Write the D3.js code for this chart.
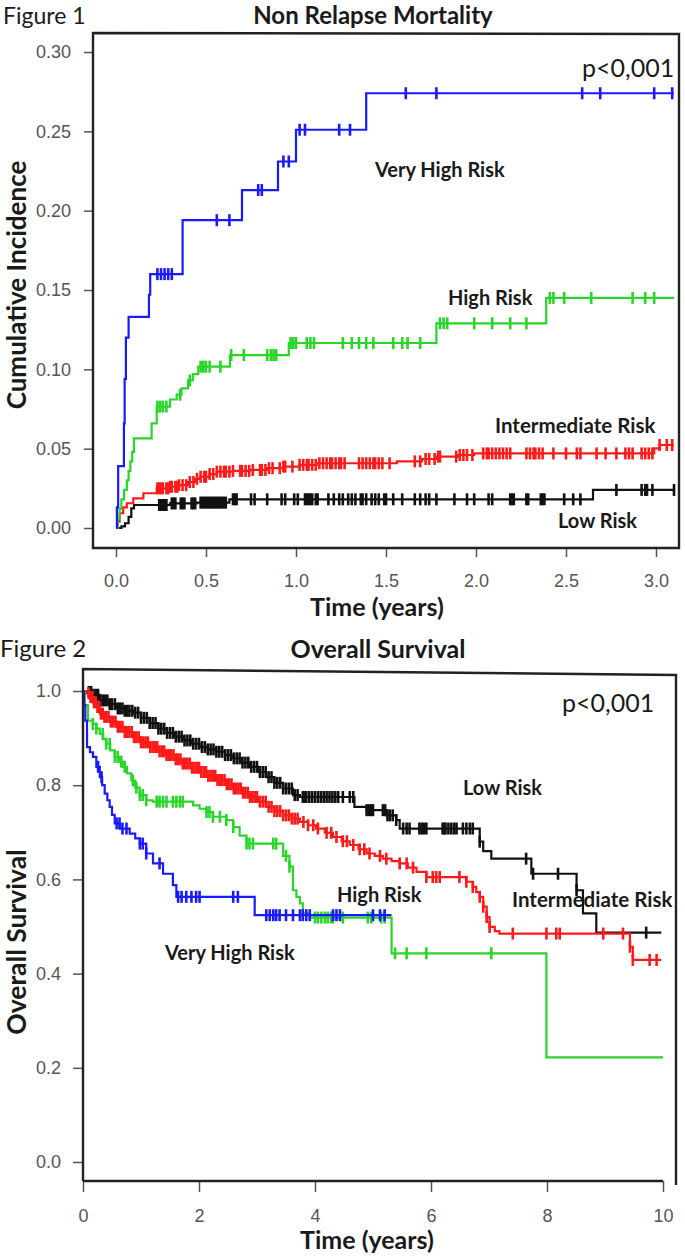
<!DOCTYPE html>
<html>
<head>
<meta charset="utf-8">
<script src="https://cdn.jsdelivr.net/npm/d3@7/dist/d3.min.js"></script>
<style>
  body { margin: 0; background: #fff; }
  text { font-family: Lato, 'Open Sans', sans-serif; fill: #1a1a1a; }
  .tick text { font-family: 'Liberation Sans', Arial, sans-serif; font-size: 18px; fill: #555; }
  .tick line { stroke: #555; stroke-width: 1.5; }
</style>
</head>
<body>
<svg id="chart" width="685" height="1258"></svg>
<script>
// ---------- Figure 1 : Non Relapse Mortality ----------
const nrmXTicks = [0, 0.5, 1, 1.5, 2, 2.5, 3]
const nrmYTicks = [0, 0.05, 0.1, 0.15, 0.2, 0.25, 0.3]

// step curves [time, cumulative incidence]
const nrmVeryHigh = [[0,0],[0.005,0.013],[0.012,0.039],[0.044,0.066],[0.048,0.094],[0.055,0.12],[0.07,0.133],[0.183,0.147],[0.19,0.16],[0.37,0.194],[0.70,0.213],[0.90,0.231],[1.0,0.251],[1.39,0.274],[3.1,0.274]]
const nrmVeryHighCens = [0.23,0.25,0.27,0.29,0.31,0.56,0.63,0.79,0.81,0.93,0.96,1.02,1.05,1.24,1.30,1.61,1.78,2.59,2.69,2.99,3.09]

const nrmHigh = [[0,0],[0.01,0.006],[0.02,0.012],[0.03,0.018],[0.045,0.024],[0.06,0.03],[0.07,0.036],[0.08,0.042],[0.09,0.048],[0.1,0.0565],[0.198,0.066],[0.226,0.0765],[0.3,0.081],[0.337,0.084],[0.364,0.088],[0.40,0.093],[0.427,0.097],[0.457,0.1017],[0.633,0.109],[0.96,0.1166],[1.78,0.129],[2.39,0.145],[3.1,0.145]]
const nrmHighCens = [0.23,0.245,0.26,0.28,0.356,0.41,0.47,0.485,0.50,0.52,0.58,0.64,0.71,0.84,0.86,0.875,0.89,0.97,0.985,1.0,1.06,1.08,1.1,1.26,1.31,1.35,1.39,1.43,1.54,1.59,1.62,1.69,1.8,1.82,1.84,1.99,2.09,2.19,2.28,2.41,2.43,2.49,2.64,2.87,2.94,2.99]

const nrmInter = [[0,0],[0.01,0.004],[0.02,0.0093],[0.04,0.013],[0.06,0.0156],[0.096,0.0187],[0.152,0.0219],[0.226,0.025],[0.3,0.026],[0.35,0.027],[0.40,0.029],[0.44,0.031],[0.467,0.0323],[0.52,0.034],[0.56,0.0355],[0.65,0.036],[0.744,0.0366],[0.84,0.0377],[0.93,0.0387],[1.02,0.0398],[1.115,0.0408],[1.56,0.042],[1.70,0.0435],[1.78,0.045],[1.9,0.046],[1.99,0.047],[2.99,0.0502],[3.02,0.0523],[3.1,0.0523]]
const nrmInterCens = [0.23,0.24,0.25,0.26,0.28,0.29,0.30,0.31,0.33,0.34,0.35,0.37,0.39,0.41,0.43,0.45,0.47,0.49,0.50,0.52,0.54,0.56,0.58,0.60,0.61,0.63,0.65,0.69,0.70,0.72,0.74,0.76,0.80,0.81,0.83,0.85,0.87,0.91,0.93,0.94,0.98,1.02,1.04,1.06,1.07,1.09,1.11,1.13,1.15,1.17,1.19,1.20,1.22,1.24,1.25,1.27,1.35,1.37,1.39,1.41,1.43,1.44,1.46,1.48,1.52,1.66,1.69,1.72,1.74,1.77,1.79,1.80,1.89,1.91,1.93,1.95,1.98,2.04,2.06,2.07,2.09,2.11,2.13,2.15,2.17,2.19,2.28,2.30,2.32,2.33,2.35,2.37,2.43,2.50,2.56,2.58,2.67,2.72,2.78,2.83,2.85,2.87,2.92,2.94,2.96,2.98,3.02,3.06,3.09]

const nrmLow = [[0,0],[0.03,0.001],[0.05,0.003],[0.07,0.007],[0.085,0.0124],[0.1,0.0145],[0.3,0.0155],[0.45,0.016],[0.63,0.0181],[2.65,0.024],[3.1,0.024]]
const nrmLowCens = [0.24,0.245,0.25,0.26,0.27,0.28,0.31,0.32,0.33,0.36,0.37,0.38,0.42,0.43,0.44,0.47,0.48,0.49,0.50,0.51,0.52,0.53,0.54,0.55,0.56,0.57,0.58,0.59,0.60,0.61,0.65,0.66,0.67,0.75,0.77,0.84,0.92,0.94,0.99,1.01,1.05,1.06,1.07,1.08,1.09,1.11,1.12,1.18,1.21,1.24,1.26,1.29,1.31,1.33,1.36,1.37,1.39,1.42,1.44,1.46,1.49,1.50,1.54,1.59,1.66,1.69,1.72,1.74,1.78,1.88,1.95,1.99,2.07,2.09,2.19,2.20,2.21,2.28,2.29,2.36,2.37,2.38,2.49,2.54,2.58,2.78,2.92,2.94,2.95,2.98,3.10]

// ---------- Figure 2 : Overall Survival ----------
const osXTicks = [0, 2, 4, 6, 8, 10]
const osYTicks = [0, 0.2, 0.4, 0.6, 0.8, 1]

const osVeryHigh = [[0,1],[0.02,0.97],[0.04,0.937],[0.069,0.881],[0.12,0.87],[0.172,0.86],[0.23,0.839],[0.29,0.817],[0.33,0.8],[0.374,0.782],[0.42,0.768],[0.46,0.754],[0.5,0.737],[0.547,0.719],[0.633,0.708],[0.805,0.697],[0.9,0.687],[0.98,0.676],[1.09,0.655],[1.207,0.634],[1.38,0.612],[1.55,0.588],[1.61,0.563],[2.96,0.524],[5.32,0.524]]
const osVeryHighCens = [0.26,0.32,0.58,0.63,0.68,0.75,0.98,1.03,1.09,1.32,1.64,1.7,1.78,1.87,1.95,2.01,2.59,2.67,3.16,3.22,3.28,3.33,3.39,3.5,3.62,3.74,3.79,3.85,3.91,4.31,4.37,4.43,5.0,5.12,5.2]

const osHigh = [[0,1],[0.03,0.97],[0.086,0.937],[0.17,0.93],[0.23,0.92],[0.29,0.909],[0.35,0.898],[0.4,0.888],[0.47,0.874],[0.547,0.86],[0.62,0.85],[0.69,0.839],[0.76,0.825],[0.834,0.81],[0.9,0.795],[0.977,0.779],[1.09,0.768],[1.2,0.765],[1.9,0.757],[2.01,0.75],[2.13,0.743],[2.24,0.733],[2.47,0.726],[2.59,0.711],[2.7,0.693],[2.82,0.676],[3.45,0.65],[3.56,0.627],[3.62,0.577],[3.68,0.563],[3.74,0.549],[3.79,0.528],[3.91,0.519],[5.32,0.443],[7.99,0.222],[10,0.222]]
const osHighCens = [0.17,0.23,0.34,0.4,0.46,0.55,0.6,0.66,0.72,0.86,0.92,0.98,1.03,1.09,1.27,1.32,1.38,1.44,1.55,1.61,1.67,1.72,2.13,2.18,2.24,2.36,2.47,2.59,2.82,2.87,2.93,3.28,3.33,3.5,3.56,4.0,4.05,4.11,4.17,4.22,4.28,4.31,4.48,4.91,4.97,5.14,5.2,5.38,5.58,5.92,7.04]

const osInter = [[0,1],[0.05,0.995],[0.115,0.987],[0.17,0.976],[0.23,0.966],[0.29,0.952],[0.35,0.945],[0.46,0.935],[0.58,0.924],[0.72,0.913],[0.86,0.902],[1.0,0.891],[1.15,0.881],[1.3,0.872],[1.44,0.864],[1.58,0.855],[1.72,0.846],[1.87,0.837],[2.01,0.828],[2.15,0.82],[2.3,0.811],[2.45,0.802],[2.59,0.793],[2.73,0.784],[2.87,0.775],[3.02,0.765],[3.16,0.754],[3.3,0.745],[3.45,0.736],[3.6,0.729],[3.74,0.722],[3.88,0.715],[4.02,0.708],[4.17,0.699],[4.31,0.69],[4.46,0.681],[4.6,0.673],[4.75,0.664],[4.89,0.655],[5.03,0.65],[5.17,0.644],[5.32,0.639],[5.46,0.634],[5.6,0.625],[5.75,0.616],[5.92,0.605],[6.61,0.595],[6.72,0.584],[6.78,0.573],[6.84,0.563],[6.9,0.542],[6.96,0.52],[7.01,0.499],[7.1,0.49],[7.18,0.485],[9.43,0.457],[9.48,0.429],[9.97,0.429]]
const osInterCens = [0.10,0.13,0.16,0.19,0.22,0.25,0.28,0.31,0.34,0.37,0.40,0.44,0.48,0.52,0.56,0.60,0.64,0.68,0.72,0.76,0.80,0.84,0.88,0.92,0.96,1.00,1.04,1.08,1.12,1.16,1.20,1.24,1.28,1.32,1.36,1.40,1.44,1.48,1.52,1.56,1.60,1.64,1.68,1.72,1.76,1.80,1.84,1.88,1.92,1.96,2.00,2.04,2.08,2.12,2.16,2.20,2.24,2.28,2.32,2.36,2.40,2.44,2.48,2.52,2.56,2.60,2.64,2.68,2.72,2.76,2.80,2.84,2.88,2.92,2.96,3.00,3.05,3.10,3.15,3.20,3.25,3.30,3.35,3.40,3.45,3.50,3.55,3.60,3.65,3.70,3.80,3.88,3.97,4.05,4.2,4.28,4.37,4.48,4.55,4.66,4.77,4.85,4.94,5.12,5.23,5.46,5.58,5.69,5.92,6.03,6.09,6.15,6.49,6.61,6.72,6.84,6.9,6.96,7.01,7.41,7.99,8.16,8.22,8.97,9.31,9.43,9.48,9.77,9.89]

const osLow = [[0,1],[0.05,0.998],[0.15,0.992],[0.29,0.98],[0.45,0.972],[0.58,0.963],[0.72,0.958],[0.86,0.954],[1.0,0.943],[1.15,0.932],[1.3,0.92],[1.44,0.911],[1.58,0.903],[1.72,0.895],[1.87,0.888],[2.01,0.881],[2.15,0.876],[2.3,0.871],[2.45,0.864],[2.59,0.857],[2.73,0.848],[2.87,0.839],[3.02,0.828],[3.16,0.817],[3.3,0.805],[3.45,0.793],[3.62,0.779],[3.74,0.775],[4.68,0.754],[4.89,0.747],[5.23,0.736],[5.4,0.726],[5.46,0.708],[6.84,0.68],[6.9,0.66],[7.04,0.644],[7.73,0.612],[8.51,0.577],[8.62,0.528],[8.85,0.487],[9.97,0.487]]
const osLowCens = [0.10,0.14,0.18,0.22,0.26,0.30,0.34,0.38,0.42,0.46,0.50,0.55,0.60,0.64,0.68,0.72,0.76,0.80,0.85,0.90,0.95,1.00,1.05,1.10,1.15,1.20,1.25,1.30,1.35,1.40,1.45,1.50,1.55,1.60,1.65,1.70,1.75,1.80,1.85,1.90,1.95,2.00,2.05,2.10,2.15,2.20,2.25,2.30,2.35,2.40,2.45,2.50,2.55,2.60,2.65,2.70,2.75,2.80,2.85,2.90,2.95,3.00,3.05,3.10,3.15,3.20,3.25,3.30,3.35,3.40,3.45,3.50,3.55,3.60,3.65,3.70,3.79,3.82,3.85,3.9,3.95,4.0,4.05,4.1,4.15,4.2,4.25,4.3,4.35,4.4,4.48,4.6,4.66,4.89,4.93,4.97,5.0,5.17,5.21,5.25,5.29,5.34,5.4,5.52,5.58,5.63,5.8,5.84,5.88,5.92,6.2,6.23,6.25,6.3,6.35,6.4,6.44,6.55,6.61,6.67,6.72,6.84,7.64,7.76,8.19,8.51,9.71]

const colors = { low: '#111111', inter: '#ff1a1a', high: '#2bd42b', veryHigh: '#1a1aff' }

const svg = d3.select('#chart')

// value of a step curve at time t
const stepAt = (pts, t) => {
    let v = pts[0][1]
    pts.forEach(p => { if (p[0] <= t) v = p[1] })
    return v
}

const drawCurve = (x, y, pts, cens, color) => {
    const g = svg.append('g')
    g.append('path')
        .datum(pts)
        .attr('fill', 'none')
        .attr('stroke', color)
        .attr('stroke-width', 2.2)
        .attr('d', d3.line().x(d => x(d[0])).y(d => y(d[1])).curve(d3.curveStepAfter))

    // censoring marks
    g.selectAll('line')
        .data(cens)
        .enter()
        .append('line')
        .attr('x1', d => x(d))
        .attr('x2', d => x(d))
        .attr('y1', d => y(stepAt(pts, d)) - 6)
        .attr('y2', d => y(stepAt(pts, d)) + 6)
        .attr('stroke', color)
        .attr('stroke-width', 2.6)
}

const cleanAxis = g => g.select('.domain').remove()

const addText = (x, y, str, size, weight, anchor) => {
    return svg.append('text')
        .attr('x', x)
        .attr('y', y)
        .attr('text-anchor', anchor || 'start')
        .style('font-size', size + 'px')
        .style('font-weight', weight || 'normal')
        .text(str)
}

// ===== Figure 1 =====
const x1 = d3.scaleLinear().domain([0, 3]).range([116, 656])
const y1 = d3.scaleLinear().domain([0, 0.3]).range([528, 52])

svg.append('g')
    .attr('transform', 'translate(93,0)')
    .call(d3.axisLeft(y1).tickValues(nrmYTicks).tickFormat(d3.format('.2f')).tickSize(9).tickPadding(13))
    .call(cleanAxis)

svg.append('g')
    .attr('transform', 'translate(0,548)')
    .call(d3.axisBottom(x1).tickValues(nrmXTicks).tickFormat(d3.format('.1f')).tickSize(9).tickPadding(17))
    .call(cleanAxis)

drawCurve(x1, y1, nrmLow, nrmLowCens, colors.low)
drawCurve(x1, y1, nrmInter, nrmInterCens, colors.inter)
drawCurve(x1, y1, nrmHigh, nrmHighCens, colors.high)
drawCurve(x1, y1, nrmVeryHigh, nrmVeryHighCens, colors.veryHigh)

svg.append('path')
    .attr('d', 'M93,33 L679,34 L679,548 L93,548 Z')
    .attr('fill', 'none')
    .attr('stroke', '#222')
    .attr('stroke-width', 2.4)

addText(3, 24, 'Figure 1', 23)
addText(373, 24, 'Non Relapse Mortality', 24, 'bold', 'middle')
addText(582, 77, 'p<0,001', 25)
addText(377, 616, 'Time (years)', 25, 'bold', 'middle')
svg.append('text')
    .attr('transform', 'translate(26,285) rotate(-90)')
    .attr('text-anchor', 'middle')
    .style('font-size', '26px')
    .style('font-weight', 'bold')
    .text('Cumulative Incidence')

addText(375, 177, 'Very High Risk', 20, 'bold')
addText(448, 305, 'High Risk', 20, 'bold')
addText(495, 433, 'Intermediate Risk', 20.5, 'bold')
addText(558, 528, 'Low Risk', 20, 'bold')

// ===== Figure 2 =====
const x2 = d3.scaleLinear().domain([0, 10]).range([83, 663])
const y2 = d3.scaleLinear().domain([0, 1]).range([1162, 691])

svg.append('g')
    .attr('transform', 'translate(83,0)')
    .call(d3.axisLeft(y2).tickValues(osYTicks).tickFormat(d3.format('.1f')).tickSize(10).tickPadding(12))
    .call(cleanAxis)

svg.append('g')
    .attr('transform', 'translate(0,1181)')
    .call(d3.axisBottom(x2).tickValues(osXTicks).tickFormat(d3.format('d')).tickSize(11).tickPadding(17))
    .call(cleanAxis)

drawCurve(x2, y2, osLow, osLowCens, colors.low)
drawCurve(x2, y2, osInter, osInterCens, colors.inter)
drawCurve(x2, y2, osHigh, osHighCens, colors.high)
drawCurve(x2, y2, osVeryHigh, osVeryHighCens, colors.veryHigh)

svg.append('path')
    .attr('d', 'M83,1181 L83,669 L676,675 L676,1185 M83,1181 L663,1181')
    .attr('fill', 'none')
    .attr('stroke', '#222')
    .attr('stroke-width', 2.4)

addText(0, 657, 'Figure 2', 24)
addText(378, 658, 'Overall Survival', 25, 'bold', 'middle')
addText(562, 712, 'p<0,001', 25)
addText(367, 1249, 'Time (years)', 25, 'bold', 'middle')
svg.append('text')
    .attr('transform', 'translate(26,942) rotate(-90)')
    .attr('text-anchor', 'middle')
    .style('font-size', '26.5px')
    .style('font-weight', 'bold')
    .text('Overall Survival')

addText(463, 795, 'Low Risk', 20, 'bold')
addText(337, 902, 'High Risk', 20, 'bold')
addText(512, 907, 'Intermediate Risk', 20.5, 'bold')
addText(165, 960, 'Very High Risk', 20, 'bold')
</script>
</body>
</html>
